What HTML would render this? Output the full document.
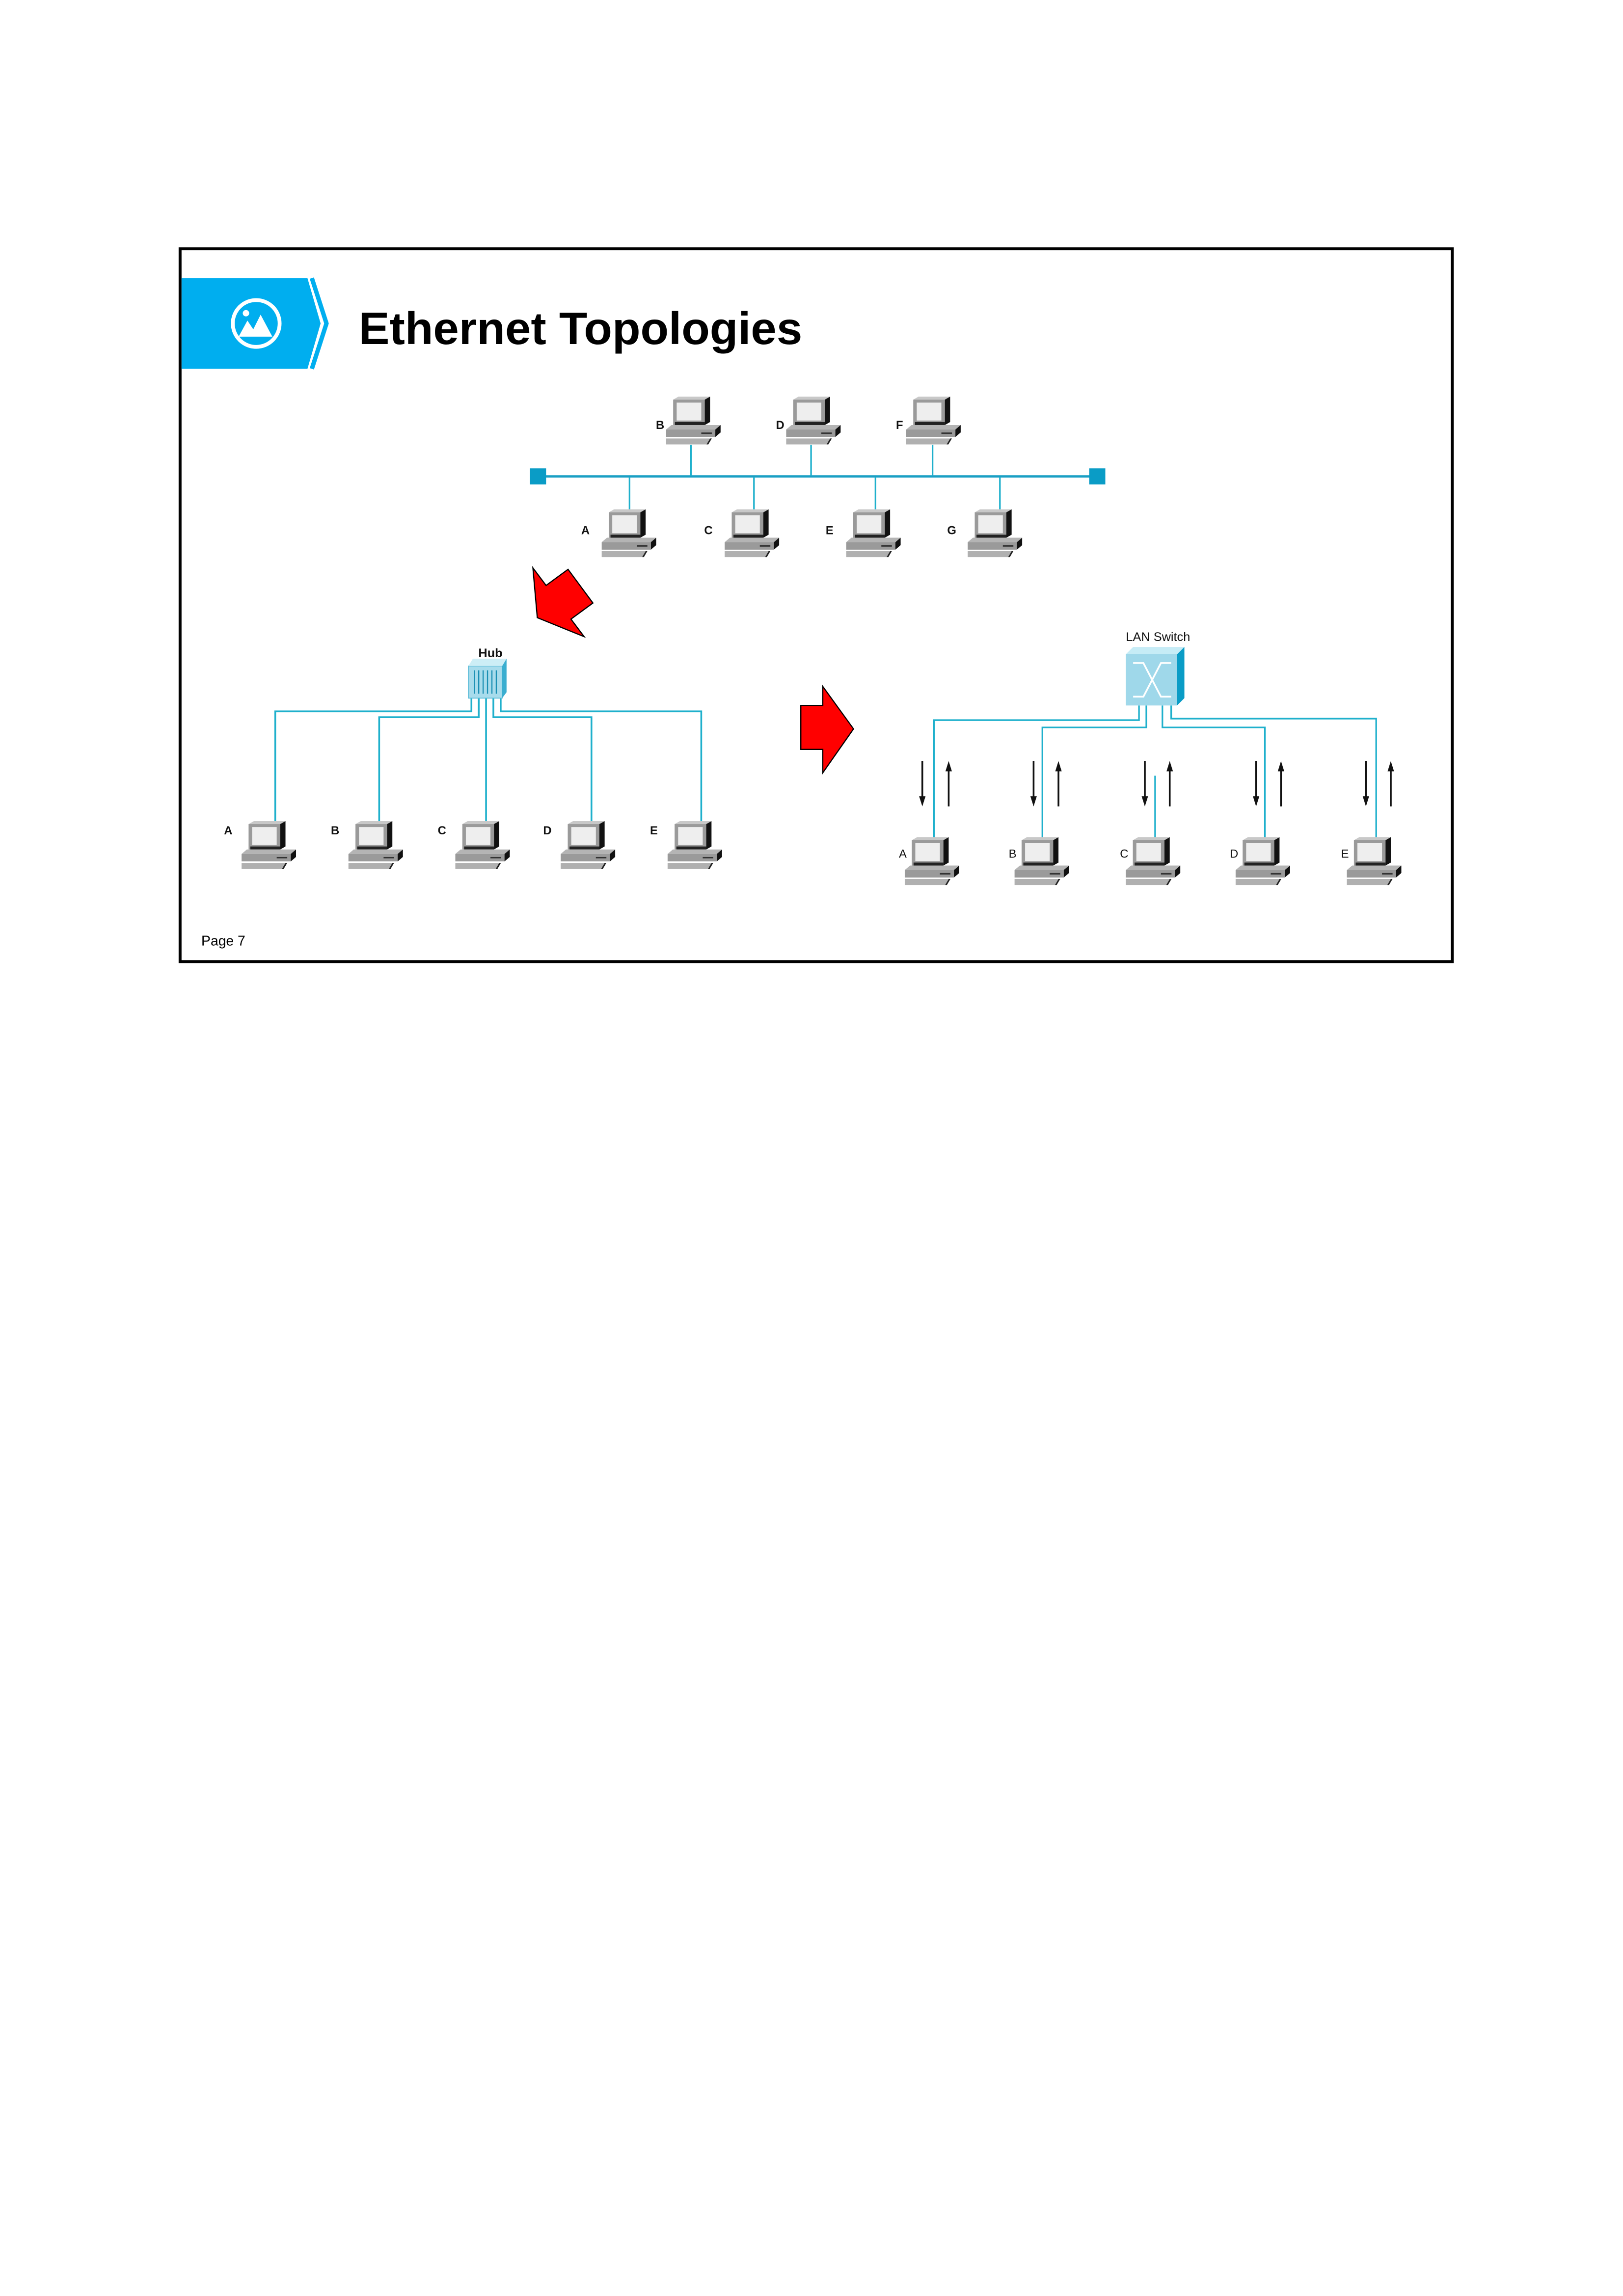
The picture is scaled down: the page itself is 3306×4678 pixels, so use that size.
<!DOCTYPE html>
<html>
<head>
<meta charset="utf-8">
<style>
html,body{margin:0;padding:0;background:#fff;}
svg{display:block;}
text{font-family:"Liberation Sans",Arial,sans-serif;}
</style>
</head>
<body>
<svg id="page" width="3306" height="4678" viewBox="0 0 1108.6 1568.7" xmlns="http://www.w3.org/2000/svg">
<defs>
  <g id="pc">
    <polygon points="4,2 7,0 25,0 22,2" fill="#c8c8c8"/>
    <rect x="4" y="2" width="18" height="17" fill="#9a9a9a"/>
    <rect x="6" y="4" width="14" height="12" fill="#eeeeee"/>
    <polygon points="22,2 25,0 25,17 22,19" fill="#111"/>
    <rect x="5" y="17" width="17" height="2" fill="#222"/>
    <polygon points="0,22 3,19 31,19 28,22" fill="#b4b4b4"/>
    <rect x="0" y="22" width="28" height="5" fill="#9a9a9a"/>
    <polygon points="28,22 31,19 31,24 28,27" fill="#111"/>
    <rect x="20" y="24" width="6" height="1" fill="#333"/>
    <polygon points="0,28 25,28 23,32 0,32" fill="#b0b0b0"/>
    <polygon points="23,32 25,28 26,28 24,32" fill="#222"/>
  </g>
</defs>

<rect x="0" y="0" width="1108.6" height="1568.7" fill="#fff"/>

<rect x="123" y="170" width="869" height="487" fill="#fff" stroke="#000" stroke-width="2"/>

<g>
  <polygon points="124,190 210,190 219,221 210,252 124,252" fill="#00AEEF"/>
  <polyline points="213,190 223,221 213,252" fill="none" stroke="#00AEEF" stroke-width="3"/>
  <g>
    <circle cx="175" cy="221" r="16" fill="none" stroke="#fff" stroke-width="2.6"/>
    <circle cx="168" cy="214" r="2.2" fill="#fff"/>
    <polygon points="163,230 169,219 173,225 178,215 186,230" fill="#fff"/>
  </g>
</g>
<text x="245" y="235" font-size="31" font-weight="bold" fill="#000" textLength="303" lengthAdjust="spacingAndGlyphs">Ethernet Topologies</text>

<g id="bus">
  <line x1="370" y1="325.5" x2="748" y2="325.5" stroke="#1a9fc4" stroke-width="1.6"/>
  <rect x="362" y="320" width="11" height="11" fill="#0a9cc6"/>
  <rect x="744" y="320" width="11" height="11" fill="#0a9cc6"/>
</g>

<polygon points="364,388 373,400 388,389 405,412 390,423 399,435 367,422" fill="#ff0000" stroke="#000" stroke-width="0.8"/>
<polygon points="547,482 562,482 562,469 583,498 562,528 562,512 547,512" fill="#ff0000" stroke="#000" stroke-width="0.8"/>

<g id="hub">
  <g fill="none" stroke="#1fb0cc" stroke-width="1.2">
    <polyline points="188,561 188,486 322,486 322,476"/>
    <polyline points="259,561 259,490 327,490 327,476"/>
    <polyline points="332,561 332,476"/>
    <polyline points="404,561 404,490 337,490 337,476"/>
    <polyline points="479,561 479,486 342,486 342,476"/>
  </g>
  <g>
    <rect x="320" y="455" width="23" height="22" fill="#a8dcec" stroke="#5cbcd8" stroke-width="0.6"/>
    <polygon points="343,455 346,450 346,473 343,477" fill="#3aaed0"/>
    <polygon points="320,455 323,450 346,450 343,455" fill="#cdeef6"/>
    <g stroke="#1a8fb4" stroke-width="0.8">
      <line x1="324" y1="458" x2="324" y2="474"/><line x1="327" y1="458" x2="327" y2="474"/>
      <line x1="330" y1="458" x2="330" y2="474"/><line x1="333" y1="458" x2="333" y2="474"/>
      <line x1="336" y1="458" x2="336" y2="474"/><line x1="339" y1="458" x2="339" y2="474"/>
    </g>
  </g>
  <text x="335" y="449" font-size="8.5" font-weight="bold" text-anchor="middle" fill="#111">Hub</text>
</g>

<g id="sw">
  <g fill="none" stroke="#1fb0cc" stroke-width="1.1">
    <polyline points="638,572 638,492 778,492 778,482"/>
    <polyline points="712,572 712,497 783,497 783,482"/>
    <line x1="789" y1="530" x2="789" y2="572"/>
    <polyline points="864,572 864,497 794,497 794,482"/>
    <polyline points="940,572 940,491 800,491 800,482"/>
  </g>
  <g>
    <rect x="769" y="447" width="35" height="35" fill="#9fd8ea"/>
    <polygon points="769,447 774,442 809,442 804,447" fill="#c6ecf6"/>
    <polygon points="804,447 809,442 809,477 804,482" fill="#0a9cc6"/>
    <g stroke="#fff" stroke-width="1.2" fill="none">
      <polyline points="774,453 781,453 793,476 800,476"/>
      <polyline points="774,476 781,476 793,453 800,453"/>
    </g>
  </g>
  <text x="791" y="438" font-size="8.5" text-anchor="middle" fill="#111">LAN Switch</text>
  <g id="arrows"></g>
</g>

<g id="pcs"></g>

<text x="137.5" y="646" font-size="9.5" fill="#000">Page 7</text>

<script>
const busTopNames = ['B','D','F'];
const busTopX = [457, 539, 621];
const busTopDropX = [472, 554, 637];
const busBotNames = ['A','C','E','G'];
const busBotX = [413, 497, 580, 663];
const busBotDropX = [430, 515, 598, 683];
const hubNames = ['A','B','C','D','E'];
const hubX = [167, 240, 313, 385, 458];
const swNames = ['A','B','C','D','E'];
const swX = [620, 695, 771, 846, 922];
const swDownX = [630, 706, 782, 858, 933];
const swUpX = [648, 723, 799, 875, 950];

const NS = 'http://www.w3.org/2000/svg';
const pcs = document.getElementById('pcs');
const bus = document.getElementById('bus');
const arrows = document.getElementById('arrows');

function addPc(x, y, label, lx, ly, bold, prefix) {
  const u = document.createElementNS(NS, 'use');
  u.setAttribute('href', '#pc');
  u.setAttribute('transform', 'translate(' + (x - 2) + ',' + y + ') scale(1.2 1.02)');
  
  
  pcs.appendChild(u);
  const t = document.createElementNS(NS, 'text');
  t.setAttribute('x', lx); t.setAttribute('y', ly);
  t.setAttribute('font-size', '8');
  if (bold) t.setAttribute('font-weight', 'bold');
  t.setAttribute('fill', '#111');
  t.textContent = label;
  
  
  pcs.appendChild(t);
}
function addLine(parent, x1, y1, x2, y2, name) {
  const l = document.createElementNS(NS, 'line');
  l.setAttribute('x1', x1); l.setAttribute('y1', y1);
  l.setAttribute('x2', x2); l.setAttribute('y2', y2);
  l.setAttribute('stroke', '#1fb0cc'); l.setAttribute('stroke-width', '1.1');
  
  
  parent.appendChild(l);
}
function addArrow(x, yFrom, yTo, name) {
  const dir = yTo > yFrom ? 1 : -1;
  const l = document.createElementNS(NS, 'line');
  l.setAttribute('x1', x); l.setAttribute('y1', yFrom);
  l.setAttribute('x2', x); l.setAttribute('y2', yTo - dir * 6);
  l.setAttribute('stroke', '#111'); l.setAttribute('stroke-width', '1.2');
  
  
  arrows.appendChild(l);
  const h = document.createElementNS(NS, 'polygon');
  h.setAttribute('points', (x - 2.2) + ',' + (yTo - dir * 7) + ' ' + (x + 2.2) + ',' + (yTo - dir * 7) + ' ' + x + ',' + yTo);
  h.setAttribute('fill', '#111');
  
  
  arrows.appendChild(h);
}

busTopNames.forEach((n, i) => {
  addLine(bus, busTopDropX[i], 304, busTopDropX[i], 325, 'bus-drop-' + n.toLowerCase());
  addPc(busTopX[i], 271, n, busTopX[i] - 9, 293, true, 'bus');
});
busBotNames.forEach((n, i) => {
  addLine(bus, busBotDropX[i], 326, busBotDropX[i], 348, 'bus-drop-' + n.toLowerCase());
  addPc(busBotX[i], 348, n, busBotX[i] - 16, 365, true, 'bus');
});
hubNames.forEach((n, i) => addPc(hubX[i], 561, n, hubX[i] - 14, 570, true, 'hub'));
swNames.forEach((n, i) => addPc(swX[i], 572, n, swX[i] - 6, 586, false, 'switch'));

swNames.forEach((n, i) => {
  addArrow(swDownX[i], 520, 551, 'downlink-arrow-' + n.toLowerCase());
  addArrow(swUpX[i], 551, 520, 'uplink-arrow-' + n.toLowerCase());
});
</script>
</svg>
</body>
</html>
